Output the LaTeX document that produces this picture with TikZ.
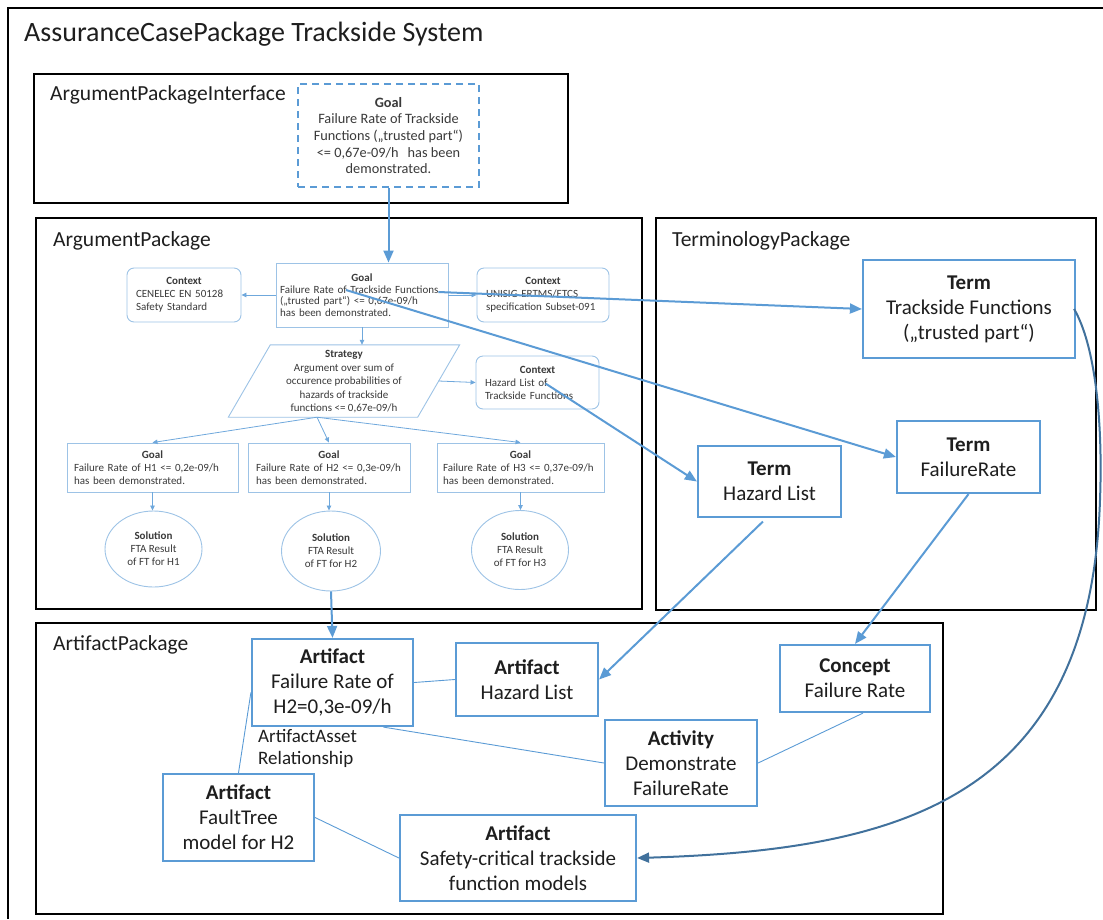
\documentclass[tikz,border=0pt]{standalone}
\usepackage{fontspec}
\setmainfont{Carlito}
\usetikzlibrary{arrows.meta,calc,shapes.geometric}
\definecolor{bblue}{HTML}{5B9BD5}
\definecolor{gblue}{HTML}{9DC3E6}
\definecolor{garrow}{HTML}{6FA8DC}
\definecolor{dblue}{HTML}{41719C}
\definecolor{txt}{HTML}{1E1E1E}
\definecolor{gtxt}{HTML}{3A3A3A}
\newcommand\gsnhead[1]{{\centering\textbf{#1}\par}}
\hyphenpenalty=10000
\exhyphenpenalty=10000
\begin{document}
\begin{tikzpicture}[x=1pt,y=-1pt,
  pkg/.style={draw=black, line width=2pt, anchor=north west, inner sep=0pt},
  pkglabel/.style={anchor=west, inner sep=0pt, text=txt, font=\fontsize{21.5}{25}\selectfont},
  bigbox/.style={draw=bblue, line width=2.2pt, fill=white, align=center, inner sep=0pt, text=txt, font=\fontsize{21}{25}\selectfont},
  gsnbox/.style={draw=gblue, line width=0.9pt, fill=white, inner sep=0pt, text=gtxt, align=left, font=\fontsize{11}{13}\selectfont},
  gsnctx/.style={gsnbox, rounded corners=7pt},
  gsnsol/.style={draw=gblue, line width=0.9pt, fill=white, ellipse, inner sep=0pt, text=gtxt, align=center, font=\fontsize{11}{13}\selectfont},
  garr/.style={draw=garrow, line width=0.8pt, -{Triangle[length=5pt,width=4.5pt]}},
  barr/.style={draw=bblue, line width=2pt, -{Triangle[length=12pt,width=10pt]}},
  thin/.style={draw=bblue, line width=0.9pt},
]
\useasboundingbox (0,0) rectangle (1103,919);
% outer frame
\draw[line width=1.2pt, black] (1103,8) -- (8,8) -- (8,919);
\node[anchor=west, inner sep=0pt, text=txt, font=\fontsize{28}{32}\selectfont] (title) at (24,34) {AssuranceCasePackage Trackside System};

% packages
\node[pkg, minimum width=534pt, minimum height=129pt] (api) at (33,73) {};
\node[pkg, minimum width=606pt, minimum height=391pt] (ap) at (35,217) {};
\node[pkg, minimum width=440pt, minimum height=392pt] (tp) at (655,217) {};
\node[pkg, minimum width=907pt, minimum height=291pt] (arp) at (35,622) {};
\node[pkglabel] (apiL) at (50,95) {ArgumentPackageInterface};
\node[pkglabel] (apL) at (53,241) {ArgumentPackage};
\node[pkglabel] (tpL) at (672,241) {TerminologyPackage};
\node[pkglabel] (arpL) at (53,645) {ArtifactPackage};

% interface goal
\node[draw=bblue, line width=2pt, dashed, dash pattern=on 7pt off 5pt, fill=white, minimum width=181pt, minimum height=103pt, inner sep=0pt, align=center, text=gtxt, font=\fontsize{14.3}{16.7}\selectfont] (dg) at (388.5,135.5)
 {\textbf{Goal}\\Failure Rate of Trackside\\Functions („trusted part“)\\<= 0,67e-09/h\hspace{9pt}has been\\demonstrated.};

% GSN argument
\node[gsnbox, minimum width=172pt, minimum height=64pt, text width=164pt, font=\fontsize{11}{11.5}\selectfont] (g0) at (362,295)
 {\gsnhead{Goal}Failure Rate of Trackside Functions\\(„trusted part“) <= 0,67e-09/h\\has been demonstrated.};
\node[gsnctx, minimum width=114pt, minimum height=54pt, text width=96pt] (c1) at (184,295)
 {\gsnhead{Context}CENELEC EN 50128\\Safety Standard};
\node[gsnctx, minimum width=132pt, minimum height=54pt, text width=114pt] (c2) at (543,295)
 {\gsnhead{Context}UNISIG ERTMS/ETCS\\specification Subset-091};
\node[minimum width=189pt, minimum height=72pt, inner sep=0pt] (st) at (344,381) {};
\draw[draw=gblue, line width=0.9pt, fill=white] ([xshift=-21pt]st.south west) -- ([xshift=21pt]st.north west) -- ([xshift=21pt]st.north east) -- ([xshift=-21pt]st.south east) -- cycle;
\node[align=center, inner sep=0pt, text=gtxt, font=\fontsize{11}{13.5}\selectfont] (stT) at (344,382)
 {\textbf{Strategy}\\Argument over sum of\\occurence probabilities of\\hazards of trackside\\functions <= 0,67e-09/h};
\node[gsnctx, minimum width=123pt, minimum height=53pt, text width=105pt] (c3) at (537.5,382.5)
 {\gsnhead{Context}Hazard List of\\Trackside Functions};
\node[gsnbox, minimum width=171pt, minimum height=49pt, text width=157pt] (h1) at (152.5,467.5)
 {\gsnhead{Goal}Failure Rate of H1 <= 0,2e-09/h\\has been demonstrated.};
\node[gsnbox, minimum width=162pt, minimum height=49pt, text width=146pt] (h2) at (329,467.5)
 {\gsnhead{Goal}Failure Rate of H2 <= 0,3e-09/h\\has been demonstrated.};
\node[gsnbox, minimum width=167pt, minimum height=49pt, text width=155pt] (h3) at (520.5,467.5)
 {\gsnhead{Goal}Failure Rate of H3 <= 0,37e-09/h\\has been demonstrated.};
\node[gsnsol, minimum width=97pt, minimum height=76pt] (s1) at (153.5,549) {\textbf{Solution}\\FTA Result\\of FT for H1};
\node[gsnsol, minimum width=99pt, minimum height=80pt] (s2) at (331,551) {\textbf{Solution}\\FTA Result\\of FT for H2};
\node[gsnsol, minimum width=97pt, minimum height=79pt] (s3) at (520,550) {\textbf{Solution}\\FTA Result\\of FT for H3};

\draw[garr] (g0.west) -- (c1.east);
\draw[garr] (g0.east) -- (c2.west);
\draw[garr] (g0.south) -- (g0.south |- st.north);
\draw[garr] (st.east) -- (c3.west);
\coordinate (stb) at ([xshift=-27pt]st.south);
\draw[garr] (stb) -- (h1.north);
\draw[garr] (stb) -- (h2.north);
\draw[garr] (stb) -- (h3.north);
\draw[garr] (h1.south) -- (h1.south |- s1.north);
\draw[garr] (h2.south) -- (h2.south |- s2.north);
\draw[garr] (h3.south) -- (h3.south |- s3.north);

% terminology
\node[bigbox, minimum width=212pt, minimum height=98pt] (t1) at (969,309) {\textbf{Term}\\Trackside Functions\\(„trusted part“)};
\node[bigbox, minimum width=143pt, minimum height=72pt] (t2) at (968.5,457) {\textbf{Term}\\FailureRate};
\node[bigbox, minimum width=143pt, minimum height=71pt] (t3) at (769.5,481.5) {\textbf{Term}\\Hazard List};

% artifacts
\node[bigbox, minimum width=161pt, minimum height=87pt] (a1) at (332.5,682.5) {\textbf{Artifact}\\Failure Rate of\\H2=0,3e-09/h};
\node[bigbox, minimum width=142pt, minimum height=73pt] (a2) at (527,679.5) {\textbf{Artifact}\\Hazard List};
\node[bigbox, minimum width=150pt, minimum height=67pt] (a3) at (855,678.5) {\textbf{Concept}\\Failure Rate};
\node[bigbox, minimum width=152pt, minimum height=86pt] (a4) at (681,763) {\textbf{Activity}\\Demonstrate\\FailureRate};
\node[bigbox, minimum width=151pt, minimum height=87pt] (a5) at (238.5,817.5) {\textbf{Artifact}\\FaultTree\\model for H2};
\node[bigbox, minimum width=236pt, minimum height=86pt] (a6) at (518,858) {\textbf{Artifact}\\Safety-critical trackside\\function models};
\node[anchor=west, align=left, inner sep=0pt, text=txt, font=\fontsize{19}{22}\selectfont] (rel) at (258,748) {ArtifactAsset\\Relationship};

% thin relations
\draw[thin] (a1.east) -- (a2.west);
\draw[thin] ([xshift=51pt]a1.south) -- (a4.west);
\draw[thin] ([xshift=8pt]a3.south) -- (a4.east);
\draw[thin] ([yshift=-10pt]a1.west) -- (a5.north);
\draw[thin] (a5.east) -- (a6.west);

% main arrows
\draw[barr] (dg.south) -- (dg.south |- g0.north);
\draw[barr] ([shift={(-10,-3)}]g0.east) -- (t1.west);
\draw[barr] ([shift={(-16,-5)}]g0.center) -- (t2.west);
\draw[barr] ([shift={(8,1)}]c3.center) -- (t3.west);
\draw[barr, shorten <=5pt] ([xshift=-3pt]t3.south) -- (a2.east);
\draw[barr] (t2.south) -- (a3.north);
\draw[barr] (s2.south) -- (a1.north);
\coordinate (k1) at (1100,500);
\draw[draw=dblue, line width=2pt, -{Triangle[length=12pt,width=10pt]}] ([xshift=-2pt]t1.east) .. controls (1095,345) and (1103,420) .. (k1) .. controls (1090,800) and (900,850) .. (a6.east);
\end{tikzpicture}
\end{document}
